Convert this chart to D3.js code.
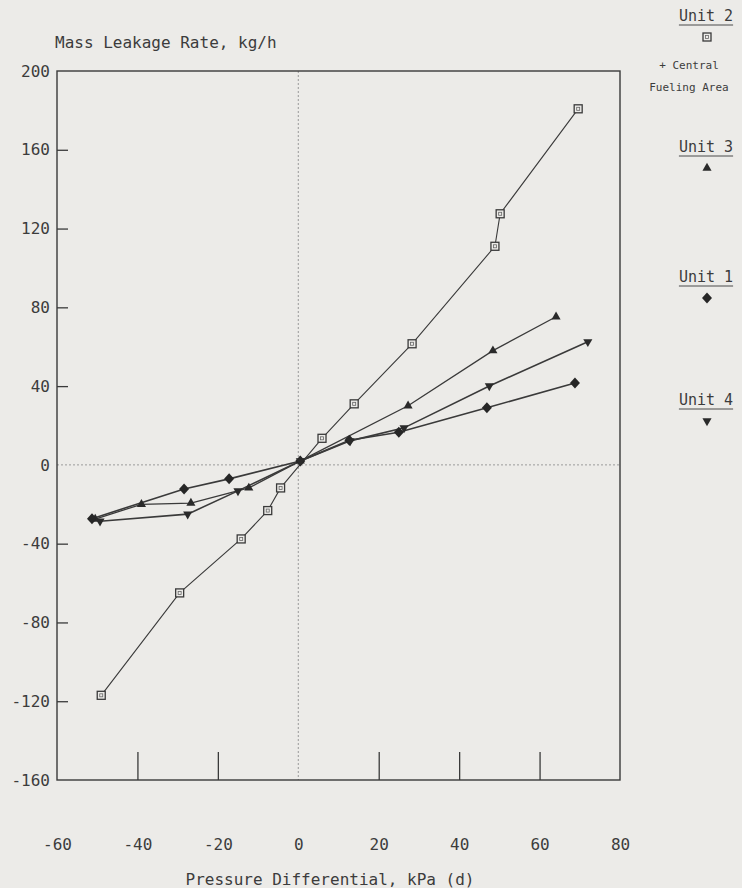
<!DOCTYPE html>
<html>
<head>
<meta charset="utf-8">
<script src="https://cdn.jsdelivr.net/npm/d3@7"></script>
<style>
  html, body { margin: 0; padding: 0; background: #ecebe8; }
  svg { display: block; }
  text { font-family: "DejaVu Sans Mono", monospace; fill: #3c3c3c; }
</style>
</head>
<body>
<div id="chart"></div>
<script>
// values (kPa, kg/h)
const unit2 = [[-49, -117], [-29.5, -65], [-14.2, -37.6], [-7.6, -23.2], [-4.4, -11.7],
  [5.9, 13.5], [13.9, 31], [28.3, 61.5], [48.9, 111], [50.2, 127.5], [69.6, 180.8]];
const unit3 = [[-50.5, -27.5], [-39, -20], [-26.7, -19.4], [-12.3, -11.7], [0.5, 2],
  [27.3, 30], [48.4, 58], [64.1, 75.2]];
const unit1 = [[-51.3, -27.3], [-28.4, -12.2], [-17.2, -7.1], [0.5, 2], [12.7, 12.5],
  [25, 16.6], [46.9, 29], [68.8, 41.6]];
const unit4 = [[-49.3, -28.6], [-27.5, -25], [-15, -13.2], [0.5, 2], [12.9, 12.2],
  [26.3, 18.8], [47.5, 40.1], [72, 62.5]];

const xTicks = [-60, -40, -20, 0, 20, 40, 60, 80];
const yTicks = [200, 160, 120, 80, 40, 0, -40, -80, -120, -160];
const legendLabels = ["Unit 2", "Unit 3", "Unit 1", "Unit 4"];

const width = 742, height = 888;
const plot = { left: 57, right: 620, top: 71, bottom: 780 };

const svg = d3.select('#chart').append('svg')
  .attr('width', width)
  .attr('height', height);

svg.append('rect').attr('width', width).attr('height', height).attr('fill', '#ecebe8');

const x = d3.scaleLinear().domain([-60, 80]).range([plot.left, plot.right]);
const y = d3.scaleLinear().domain([-160, 200]).range([plot.bottom, plot.top]);

const ink = '#3a3a3a';
const fmt = d => String(d);  // plain hyphen minus, like the typed original

// zero reference lines (dotted)
const zeroG = svg.append('g').attr('stroke', '#9a9a9a').attr('stroke-width', 1).attr('stroke-dasharray', '2,2');
zeroG.append('line').attr('x1', x(0)).attr('x2', x(0)).attr('y1', plot.top).attr('y2', plot.bottom);
zeroG.append('line').attr('x1', plot.left).attr('x2', plot.right).attr('y1', y(0)).attr('y2', y(0));

// frame
svg.append('rect')
  .attr('x', plot.left).attr('y', plot.top)
  .attr('width', plot.right - plot.left).attr('height', plot.bottom - plot.top)
  .attr('fill', 'none').attr('stroke', ink).attr('stroke-width', 1.4);

// y axis: inward ticks, labels at every value
const yAxis = d3.axisLeft(y)
  .tickValues(yTicks)
  .tickFormat(fmt)
  .tickSizeInner(-11)
  .tickSizeOuter(0)
  .tickPadding(7);
const yG = svg.append('g').attr('transform', `translate(${plot.left},0)`).call(yAxis);
yG.select('.domain').remove();
yG.selectAll('.tick line')
  .attr('stroke', ink).attr('stroke-width', 1.3)
  .filter(d => d === 200 || d === -160 || d === 0).remove();
yG.selectAll('.tick text').attr('font-size', 16).attr('font-family', '"DejaVu Sans Mono", monospace').attr('fill', '#3c3c3c');

// x axis: tall inward ticks, labels well below
const xAxis = d3.axisBottom(x)
  .tickValues(xTicks)
  .tickFormat(fmt)
  .tickSizeInner(-28)
  .tickSizeOuter(0)
  .tickPadding(59);
const xG = svg.append('g').attr('transform', `translate(0,${plot.bottom})`).call(xAxis);
xG.select('.domain').remove();
xG.selectAll('.tick line')
  .attr('stroke', ink).attr('stroke-width', 1.3)
  .filter(d => d === -60 || d === 80 || d === 0).remove();
xG.selectAll('.tick text').attr('font-size', 16).attr('font-family', '"DejaVu Sans Mono", monospace').attr('fill', '#3c3c3c');

// titles
svg.append('text').attr('x', 55).attr('y', 48).attr('font-size', 16).text('Mass Leakage Rate, kg/h');
svg.append('text').attr('x', 330).attr('y', 885).attr('text-anchor', 'middle').attr('font-size', 16)
  .text('Pressure Differential, kPa (d)');

// series
const line = d3.line().x(d => x(d[0])).y(d => y(d[1]));
const series = [
  { data: unit2, symbol: 'square', width: 1.1 },
  { data: unit3, symbol: 'up', width: 1.3 },
  { data: unit1, symbol: 'diamond', width: 1.6 },
  { data: unit4, symbol: 'down', width: 1.6 }
];

const triPath = d3.symbol(d3.symbolTriangle, 36)();

function drawMarker(g, kind, cx, cy) {
  if (kind === 'square') {
    g.append('rect').attr('x', cx - 4).attr('y', cy - 4).attr('width', 8).attr('height', 8)
      .attr('fill', '#ecebe8').attr('stroke', ink).attr('stroke-width', 1.3);
    g.append('rect').attr('x', cx - 1.5).attr('y', cy - 1.5).attr('width', 3).attr('height', 3)
      .attr('fill', 'none').attr('stroke', '#666').attr('stroke-width', 0.8);
  } else if (kind === 'diamond') {
    g.append('path').attr('d', 'M0,-5.5L5,0L0,5.5L-5,0Z')
      .attr('transform', `translate(${cx},${cy})`).attr('fill', '#262626');
  } else {
    g.append('path').attr('d', triPath)
      .attr('transform', `translate(${cx},${cy})${kind === 'down' ? ' rotate(180)' : ''}`)
      .attr('fill', '#2a2a2a');
  }
}

series.forEach(s => {
  svg.append('path').datum(s.data)
    .attr('d', line)
    .attr('fill', 'none').attr('stroke', ink).attr('stroke-width', s.width);
});
series.forEach(s => {
  const g = svg.append('g');
  s.data.forEach(d => drawMarker(g, s.symbol, x(d[0]), y(d[1])));
});

// legend on the right
const legendY = [21, 152, 282, 405];
const legendSym = ['square', 'up', 'diamond', 'down'];
const lx = 706;
legendLabels.forEach((lab, i) => {
  const t = svg.append('text').attr('x', lx).attr('y', legendY[i]).attr('text-anchor', 'middle')
    .attr('font-size', 15).text(lab);
  const w = t.node().getComputedTextLength();
  svg.append('line').attr('x1', lx - w / 2).attr('x2', lx + w / 2)
    .attr('y1', legendY[i] + 4).attr('y2', legendY[i] + 4)
    .attr('stroke', '#4a4a4a').attr('stroke-width', 1);
  drawMarker(svg.append('g'), legendSym[i], lx + 1, legendY[i] + 16);
});
svg.append('text').attr('x', 689).attr('y', 69).attr('text-anchor', 'middle').attr('font-size', 11).text('+ Central');
svg.append('text').attr('x', 689).attr('y', 91).attr('text-anchor', 'middle').attr('font-size', 11).text('Fueling Area');
</script>
</body>
</html>
